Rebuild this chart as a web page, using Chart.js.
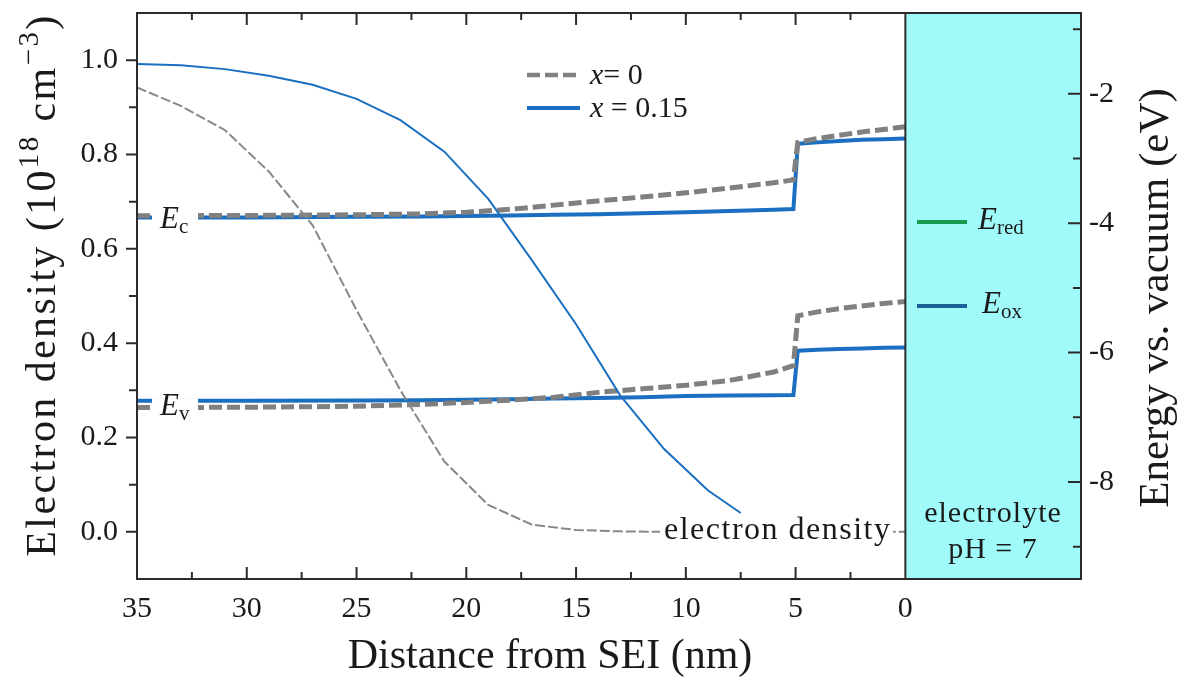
<!DOCTYPE html>
<html>
<head>
<meta charset="utf-8">
<script src="https://cdn.jsdelivr.net/npm/chart.js@4.4.1/dist/chart.umd.min.js"></script>
<style>
  html, body { margin: 0; padding: 0; background: #fff; }
  #wrap { width: 1181px; height: 679px; position: relative; }
</style>
</head>
<body>
<div id="wrap"><canvas id="chart"></canvas></div>
<script>
// electron density, left axis (10^18 cm^-3), distance from SEI in nm
const densX0 = [35, 33, 31, 29, 27, 25, 23, 21, 19, 17, 15, 13, 11, 9, 7, 5, 3, 1, 0];
const dens0 = [0.942, 0.903, 0.852, 0.764, 0.65, 0.47, 0.30, 0.149, 0.057, 0.015, 0.004, 0.001, 0, 0, 0, 0, 0, 0, 0];
const densX15 = [35, 33, 31, 29, 27, 25, 23, 21, 19, 17, 15, 13, 11, 9, 7.5];
const dens15 = [0.992, 0.989, 0.981, 0.967, 0.948, 0.918, 0.873, 0.806, 0.706, 0.575, 0.44, 0.29, 0.176, 0.088, 0.04];

// band edges, right axis (eV vs. vacuum)
const bandX = [35, 30, 25, 22, 20, 18, 16, 14, 12, 10, 8, 6, 5.1, 4.9, 4, 3, 2, 1, 0];
const ec0 = [-3.885, -3.88, -3.87, -3.855, -3.83, -3.785, -3.72, -3.655, -3.595, -3.53, -3.455, -3.375, -3.33, -2.75, -2.69, -2.64, -2.59, -2.55, -2.51];
const ev0 = [-6.85, -6.845, -6.83, -6.8, -6.77, -6.735, -6.69, -6.615, -6.56, -6.505, -6.43, -6.3, -6.2, -5.43, -5.37, -5.32, -5.28, -5.24, -5.21];
const ec15 = [-3.91, -3.91, -3.90, -3.895, -3.89, -3.88, -3.87, -3.86, -3.845, -3.83, -3.81, -3.79, -3.78, -2.77, -2.75, -2.73, -2.71, -2.70, -2.69];
const ev15 = [-6.745, -6.745, -6.74, -6.735, -6.73, -6.72, -6.71, -6.70, -6.69, -6.67, -6.665, -6.66, -6.655, -5.97, -5.955, -5.945, -5.935, -5.925, -5.92];

const xTicks = [35, 30, 25, 20, 15, 10, 5, 0];
const yTicks = [0, 0.2, 0.4, 0.6, 0.8, 1.0];
const y2Ticks = [-2, -4, -6, -8];

const GRAY = '#808080';
const BLUE = '#1a6fc0';
const GREEN = '#17994f';
const DARKBLUE = '#1c5e96';
const CYAN = '#a0fafa';
const INK = '#1a1a1a';
const SERIF = '"Liberation Serif", "Times New Roman", serif';

const pts = (xs, ys) => xs.map((x, i) => ({ x: x, y: ys[i] }));

// draws a run of text pieces (font / vertical shift) from x, returns end x
function rich(ctx, parts, x, y, draw) {
  parts.forEach(p => {
    ctx.font = p.font;
    if (draw) ctx.fillText(p.t, x, y + (p.dy || 0));
    x += ctx.measureText(p.t).width;
  });
  return x;
}

// keep the plot box where the reference has it
function noPad(s) {
  s.paddingTop = 0; s.paddingBottom = 0; s.paddingLeft = 0; s.paddingRight = 0;
}

const decor = {
  id: 'decor',
  beforeDatasetsDraw(chart) {
    const { ctx, chartArea: a, scales } = chart;
    const x0 = scales.x.getPixelForValue(0);
    ctx.save();
    ctx.fillStyle = CYAN;
    ctx.fillRect(x0, a.top, a.right - x0, a.bottom - a.top);
    ctx.restore();
  },
  afterDatasetsDraw(chart) {
    const { ctx, chartArea: a, scales } = chart;
    const xs = scales.x, ys = scales.y, y2 = scales.y2;
    ctx.save();
    ctx.fillStyle = INK;
    ctx.textBaseline = 'alphabetic';

    // E_c / E_v labels sitting on the band lines
    const it = 'italic 31px ' + SERIF, sub = '21px ' + SERIF;
    [['c', (y2.getPixelForValue(ec0[0]) + y2.getPixelForValue(ec15[0])) / 2],
     ['v', (y2.getPixelForValue(ev0[0]) + y2.getPixelForValue(ev15[0])) / 2]].forEach(([s, py]) => {
      ctx.fillStyle = '#fff';
      ctx.fillRect(152, py - 6, 46, 12);
      ctx.fillStyle = INK;
      rich(ctx, [{ t: 'E', font: it }, { t: s, font: sub, dy: 5 }], 160, py + 11, true);
    });

    // electron density label
    ctx.fillStyle = '#fff';
    ctx.fillRect(660, ys.getPixelForValue(0) - 14, 233, 28);
    ctx.fillStyle = INK;
    ctx.font = '32px ' + SERIF;
    ctx.letterSpacing = '1.5px';
    ctx.textAlign = 'left';
    ctx.fillText('electron density', 664, 539);
    ctx.letterSpacing = '0px';

    // series legend
    ctx.lineCap = 'butt';
    ctx.lineWidth = 4.5;
    ctx.strokeStyle = GRAY;
    ctx.setLineDash([13, 5]);
    ctx.beginPath(); ctx.moveTo(527, 75); ctx.lineTo(580, 75); ctx.stroke();
    ctx.setLineDash([]);
    ctx.strokeStyle = BLUE;
    ctx.lineWidth = 4;
    ctx.beginPath(); ctx.moveTo(527, 108); ctx.lineTo(580, 108); ctx.stroke();
    const lf = '30px ' + SERIF, li = 'italic 30px ' + SERIF;
    rich(ctx, [{ t: 'x', font: li }, { t: '= 0', font: lf }], 590, 84, true);
    rich(ctx, [{ t: 'x', font: li }, { t: ' = 0.15', font: lf }], 590, 117, true);

    // redox legend in the electrolyte
    ctx.lineWidth = 4;
    ctx.strokeStyle = GREEN;
    ctx.beginPath(); ctx.moveTo(917, 222); ctx.lineTo(967, 222); ctx.stroke();
    ctx.strokeStyle = DARKBLUE;
    ctx.beginPath(); ctx.moveTo(917, 306); ctx.lineTo(967, 306); ctx.stroke();
    rich(ctx, [{ t: 'E', font: it }, { t: 'red', font: sub, dy: 5 }], 978, 229, true);
    rich(ctx, [{ t: 'E', font: it }, { t: 'ox', font: sub, dy: 5 }], 982, 313, true);

    // electrolyte caption
    ctx.textAlign = 'center';
    ctx.font = '30px ' + SERIF;
    ctx.letterSpacing = '1px';
    ctx.fillText('electrolyte', 993, 522);
    ctx.fillText('pH = 7', 993, 558);
    ctx.letterSpacing = '0px';
    ctx.restore();
  },
  afterDraw(chart) {
    const { ctx, chartArea: a, scales } = chart;
    const xs = scales.x, ys = scales.y, y2 = scales.y2;
    const x0 = xs.getPixelForValue(0);
    ctx.save();
    ctx.strokeStyle = '#2b2b2b';
    ctx.lineWidth = 2;
    ctx.setLineDash([]);
    ctx.strokeRect(a.left, a.top, a.right - a.left, a.bottom - a.top);
    ctx.beginPath(); ctx.moveTo(x0, a.top); ctx.lineTo(x0, a.bottom); ctx.stroke();

    ctx.beginPath();
    // bottom and top ticks point inwards
    for (let v = 35; v > 0; v -= 2.5) {
      const px = xs.getPixelForValue(v);
      const len = v % 5 === 0 ? 12 : 7;
      ctx.moveTo(px, a.bottom); ctx.lineTo(px, a.bottom - len);
      ctx.moveTo(px, a.top); ctx.lineTo(px, a.top + len);
    }
    // left ticks point outwards
    for (let k = 0; k <= 10; k++) {
      const py = ys.getPixelForValue(k / 10);
      const len = k % 2 === 0 ? 11 : 8;
      ctx.moveTo(a.left, py); ctx.lineTo(a.left - len, py);
    }
    // right ticks point inwards
    for (let v = -1; v >= -9; v--) {
      const py = y2.getPixelForValue(v);
      const len = v % 2 === 0 ? 13 : 8;
      ctx.moveTo(a.right, py); ctx.lineTo(a.right - len, py);
    }
    ctx.stroke();

    // axis titles
    ctx.fillStyle = INK;
    ctx.textBaseline = 'alphabetic';
    const big = '42px ' + SERIF, sm = '29px ' + SERIF;
    ctx.font = big;
    ctx.textAlign = 'center';
    ctx.fillText('Distance from SEI (nm)', 550, 668);

    ctx.textAlign = 'left';
    const leftParts = [
      { t: 'Electron density (10', font: big },
      { t: '18', font: sm, dy: -17 },
      { t: ' cm', font: big },
      { t: '\u22123', font: sm, dy: -17 },
      { t: ')', font: big }
    ];
    ctx.save();
    ctx.translate(55, 285);
    ctx.rotate(-Math.PI / 2);
    ctx.letterSpacing = '2.4px';
    const w = rich(ctx, leftParts, 0, 0, false);
    rich(ctx, leftParts, -w / 2, 0, true);
    ctx.restore();

    ctx.save();
    ctx.translate(1168, 298);
    ctx.rotate(-Math.PI / 2);
    ctx.textAlign = 'center';
    ctx.font = '43px ' + SERIF;
    ctx.fillText('Energy vs. vacuum (eV)', 0, 0);
    ctx.restore();
    ctx.restore();
  }
};

const tickFont = { family: SERIF, size: 30 };

new Chart(document.getElementById('chart'), {
  type: 'line',
  data: {
    datasets: [
      { label: 'density x = 0.15', data: pts(densX15, dens15), yAxisID: 'y', borderColor: BLUE, borderWidth: 2, order: 1 },
      { label: 'density x = 0', data: pts(densX0, dens0), yAxisID: 'y', borderColor: '#888888', borderWidth: 2, borderDash: [10, 3], order: 2 },
      { label: 'Ec x = 0', data: pts(bandX, ec0), yAxisID: 'y2', borderColor: GRAY, borderWidth: 5, borderDash: [13, 5], order: 3 },
      { label: 'Ev x = 0', data: pts(bandX, ev0), yAxisID: 'y2', borderColor: GRAY, borderWidth: 5, borderDash: [13, 5], order: 4 },
      { label: 'Ec x = 0.15', data: pts(bandX, ec15), yAxisID: 'y2', borderColor: BLUE, borderWidth: 4, order: 5 },
      { label: 'Ev x = 0.15', data: pts(bandX, ev15), yAxisID: 'y2', borderColor: BLUE, borderWidth: 4, order: 6 }
    ]
  },
  options: {
    responsive: true,
    maintainAspectRatio: false,
    animation: false,
    layout: { padding: { top: 13, left: 0, right: 0, bottom: 0 } },
    plugins: { legend: { display: false }, tooltip: { enabled: false } },
    elements: { point: { radius: 0 }, line: { tension: 0, borderCapStyle: 'butt', fill: false } },
    scales: {
      x: {
        type: 'linear', reverse: true, min: -8, max: 35,
        grid: { display: false, drawTicks: false }, border: { display: false },
        ticks: { font: tickFont, color: INK, padding: 12, maxRotation: 0, autoSkip: false, callback: v => String(v) },
        afterBuildTicks: s => { s.ticks = xTicks.map(v => ({ value: v })); },
        afterFit: s => { s.height = 100; noPad(s); }
      },
      y: {
        type: 'linear', position: 'left', min: -0.1, max: 1.1,
        grid: { display: false, drawTicks: false }, border: { display: false },
        ticks: { font: tickFont, color: INK, padding: 19, callback: v => v.toFixed(1) },
        afterBuildTicks: s => { s.ticks = yTicks.map(v => ({ value: v })); },
        afterFit: s => { s.width = 137; noPad(s); }
      },
      y2: {
        type: 'linear', position: 'right', min: -9.5, max: -0.75,
        grid: { display: false, drawTicks: false }, border: { display: false },
        ticks: { font: tickFont, color: INK, padding: 8, callback: v => '-' + Math.abs(v) },
        afterBuildTicks: s => { s.ticks = y2Ticks.map(v => ({ value: v })); },
        afterFit: s => { s.width = 100; noPad(s); }
      }
    }
  },
  plugins: [decor]
});
</script>
</body>
</html>
